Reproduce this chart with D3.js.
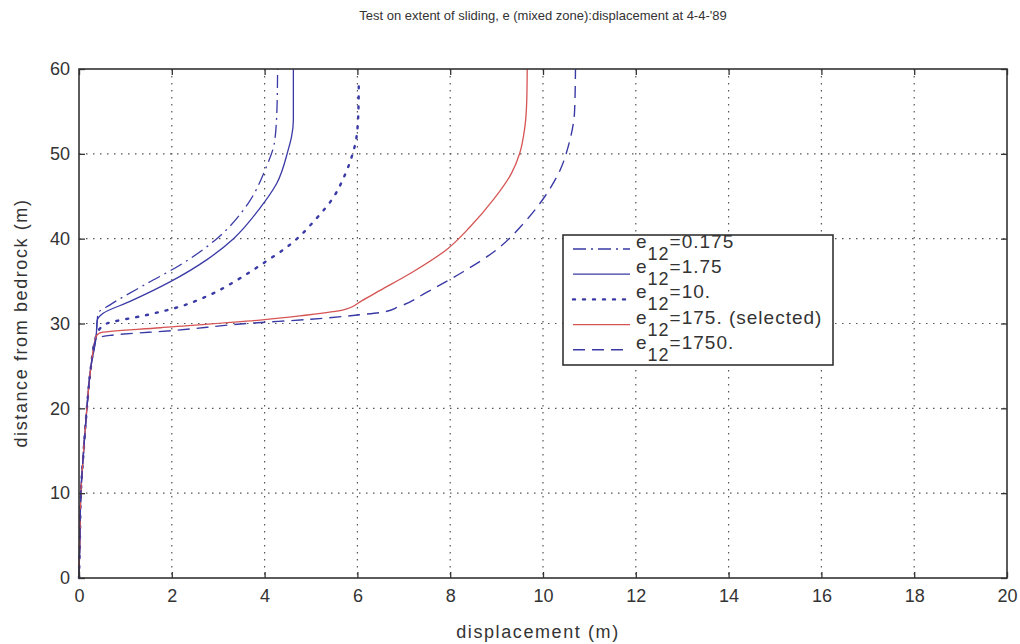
<!DOCTYPE html>
<html>
<head>
<meta charset="utf-8">
<script src="https://cdn.jsdelivr.net/npm/d3@7/dist/d3.min.js"></script>
<style>
  body { margin: 0; background: #fff; }
  text { font-family: "Liberation Sans", Arial, sans-serif; fill: #333; }
</style>
</head>
<body>
<svg class="chart"></svg>
<script>
const width = 1020,
  height = 644;

// ticks
const xTicks = [0, 2, 4, 6, 8, 10, 12, 14, 16, 18, 20];
const yTicks = [0, 10, 20, 30, 40, 50, 60];

// e12 = 0.175
const e0175X = [0, 0.02, 0.04, 0.1, 0.17, 0.26, 0.37, 0.41, 0.67, 1.46, 2.18, 2.97, 3.65, 4.01, 4.22, 4.27, 4.28];
const e0175Y = [0, 5, 10, 15, 20, 25, 28.5, 31.2, 32.2, 34.7, 36.9, 40.0, 44.2, 48.1, 51.6, 56.0, 60];
// e12 = 1.75
const e175sX = [0, 0.02, 0.04, 0.1, 0.17, 0.26, 0.37, 0.39, 0.52, 1.10, 1.96, 2.75, 3.33, 3.90, 4.26, 4.51, 4.58, 4.62, 4.62];
const e175sY = [0, 5, 10, 15, 20, 25, 28.5, 30.3, 31.2, 32.6, 34.9, 37.5, 40.0, 43.6, 46.5, 50.5, 52.0, 54, 60];
// e12 = 10
const e10X = [0, 0.02, 0.04, 0.1, 0.17, 0.26, 0.37, 0.45, 0.6, 1.46, 2.18, 2.75, 3.4, 3.97, 4.55, 5.12, 5.45, 5.73, 5.88, 5.97, 6.02, 6.03];
const e10Y = [0, 5, 10, 15, 20, 25, 28.5, 29.4, 30.0, 31.0, 32.0, 33.2, 35.1, 37.1, 39.3, 42.4, 44.6, 47.5, 49.7, 51.6, 54.8, 58.3];
// e12 = 175 (selected)
const e175X = [0, 0.02, 0.04, 0.1, 0.17, 0.26, 0.37, 0.45, 1.75, 3.9, 4.76, 5.7, 6.1, 6.49, 7.2, 7.92, 8.43, 8.93, 9.32, 9.5, 9.61, 9.65, 9.66];
const e175Y = [0, 5, 10, 15, 20, 25, 28.5, 28.9, 29.5, 30.4, 30.9, 31.6, 32.7, 33.9, 36.1, 38.7, 41.4, 44.6, 47.7, 50.1, 53.2, 56.3, 60];
// e12 = 1750
const e1750X = [0, 0.02, 0.04, 0.1, 0.17, 0.26, 0.37, 0.45, 0.67, 2.1, 3.61, 5.0, 6.0, 6.5, 6.9, 7.5, 8.28, 9.0, 9.58, 10.08, 10.37, 10.55, 10.68, 10.7];
const e1750Y = [0, 5, 10, 15, 20, 25, 28.3, 28.4, 28.6, 29.2, 30.0, 30.5, 31.0, 31.3, 32.0, 33.7, 36.1, 38.7, 41.8, 45.3, 48.1, 51, 55, 60];

const labels = ["=0.175", "=1.75", "=10.", "=175. (selected)", "=1750."];

const blue = "#3a3aa6", red = "#d65454";
const series = [
  { x: e0175X, y: e0175Y, color: blue, dash: "13,5,2,5", w: 1.3 },
  { x: e175sX, y: e175sY, color: blue, dash: null, w: 1.3 },
  { x: e10X, y: e10Y, color: blue, dash: "2,8", w: 2.4 },
  { x: e175X, y: e175Y, color: red, dash: null, w: 1.3 },
  { x: e1750X, y: e1750Y, color: blue, dash: "12,7", w: 1.4 }
];

const plot = { left: 79, right: 1007, top: 69, bottom: 578 };

let svg = d3.select(".chart")
  .attr("width", width)
  .attr("height", height);

let x = d3.scaleLinear().domain([0, 20]).range([plot.left, plot.right]);
let y = d3.scaleLinear().domain([0, 60]).range([plot.bottom, plot.top]);

// grid
let grid = svg.append("g")
  .attr("stroke", "#555")
  .attr("stroke-width", 1.2)
  .attr("stroke-dasharray", "1.5,5.5");
grid.selectAll(".gx")
  .data(xTicks.slice(1, -1))
  .enter().append("line")
  .attr("x1", d => x(d)).attr("x2", d => x(d))
  .attr("y1", plot.top).attr("y2", plot.bottom);
grid.selectAll(".gy")
  .data(yTicks.slice(1, -1))
  .enter().append("line")
  .attr("y1", d => y(d)).attr("y2", d => y(d))
  .attr("x1", plot.left).attr("x2", plot.right);

// curves
let line = d3.line()
  .curve(d3.curveMonotoneY)
  .x(d => x(d[0]))
  .y(d => y(d[1]));

svg.append("g").selectAll("path")
  .data(series)
  .enter().append("path")
  .attr("fill", "none")
  .attr("stroke", d => d.color)
  .attr("stroke-width", d => d.w)
  .attr("stroke-dasharray", d => d.dash)
  .attr("stroke-linecap", d => d.dash === "2,8" ? "round" : "butt")
  .attr("d", d => line(d.x.map((v, i) => [v, d.y[i]])));

// axes (ticks inside, box all round)
const tickLen = 6;
let axisStyle = g => {
  g.attr("font-size", null).attr("font-family", null);
  g.select(".domain").remove();
  g.selectAll("line").attr("stroke", "#333").attr("stroke-width", 1.3);
  g.selectAll("text").attr("fill", "#333").style("font-size", "18px");
};

svg.append("g")
  .attr("transform", `translate(0,${plot.bottom})`)
  .call(d3.axisBottom(x).tickValues(xTicks).tickSize(-tickLen).tickPadding(11))
  .call(axisStyle);
svg.append("g")
  .attr("transform", `translate(${plot.left},0)`)
  .call(d3.axisLeft(y).tickValues(yTicks).tickSize(-tickLen).tickPadding(9))
  .call(axisStyle);
svg.append("g")
  .attr("transform", `translate(0,${plot.top})`)
  .call(d3.axisTop(x).tickValues(xTicks).tickSize(-tickLen).tickFormat(""))
  .call(axisStyle);
svg.append("g")
  .attr("transform", `translate(${plot.right},0)`)
  .call(d3.axisRight(y).tickValues(yTicks).tickSize(-tickLen).tickFormat(""))
  .call(axisStyle);

svg.append("rect")
  .attr("x", plot.left).attr("y", plot.top)
  .attr("width", plot.right - plot.left).attr("height", plot.bottom - plot.top)
  .attr("fill", "none").attr("stroke", "#333").attr("stroke-width", 1.6);

// title and labels
svg.append("text")
  .attr("x", 543).attr("y", 20)
  .attr("text-anchor", "middle")
  .style("font-size", "13px")
  .text("Test on extent of sliding, e (mixed zone):displacement at 4-4-'89");

svg.append("text")
  .attr("x", 538).attr("y", 638)
  .attr("text-anchor", "middle")
  .style("font-size", "18px")
  .style("letter-spacing", "1.6px")
  .text("displacement (m)");

svg.append("text")
  .attr("transform", "translate(27,323) rotate(-90)")
  .attr("text-anchor", "middle")
  .style("font-size", "18px")
  .style("letter-spacing", "1.6px")
  .text("distance from bedrock (m)");

// legend
let legend = svg.append("g");
legend.append("rect")
  .attr("x", 563).attr("y", 235)
  .attr("width", 270).attr("height", 130)
  .attr("fill", "#fff").attr("stroke", "#333").attr("stroke-width", 1.6);

let rows = legend.selectAll(".row")
  .data(series)
  .enter().append("g")
  .attr("transform", (d, i) => `translate(0,${249 + i * 25.2})`);
rows.append("line")
  .attr("x1", 573).attr("x2", 630)
  .attr("stroke", d => d.color)
  .attr("stroke-width", d => d.w)
  .attr("stroke-dasharray", d => d.dash)
  .attr("stroke-linecap", d => d.dash === "2,8" ? "round" : "butt");
let lt = rows.append("text")
  .attr("x", 636).attr("y", -1)
  .style("font-size", "19px")
  .style("letter-spacing", "1px");
lt.append("tspan").text("e");
lt.append("tspan").attr("dy", 12).attr("dx", 0).style("font-size", "18px").text("12");
lt.append("tspan").attr("dy", -12).text((d, i) => labels[i]);
</script>
</body>
</html>
